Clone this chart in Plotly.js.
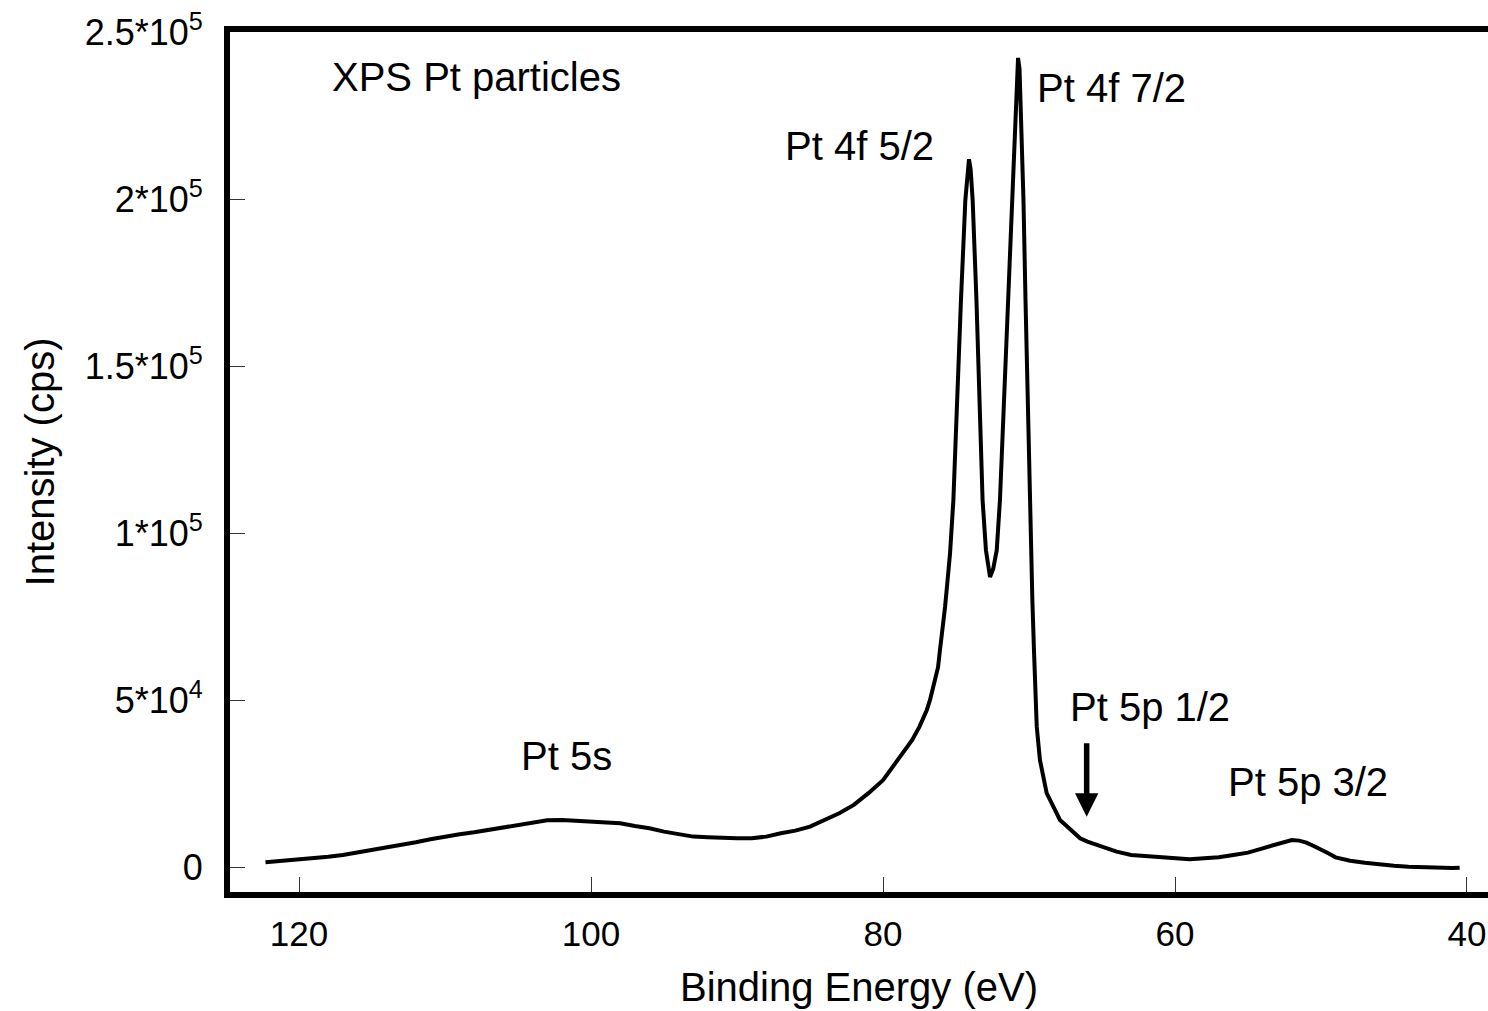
<!DOCTYPE html>
<html>
<head>
<meta charset="utf-8">
<script src="https://cdn.plot.ly/plotly-3.0.1.min.js"></script>
<style>html,body{margin:0;padding:0;background:#fff;}#chart{width:1488px;height:1011px;}</style>
</head>
<body>
<div id="chart"></div>
<script>
// Binding energy (eV)
const bindingEnergy = [
  122.3, 121, 120, 119, 118, 117, 116, 115, 114, 113, 112, 111, 110, 109, 108, 107, 106, 105, 104, 103,
  102, 101, 100, 99, 98, 97, 96, 95, 94, 93, 92, 91, 90, 89, 88, 87, 86, 85, 84, 83,
  82, 81, 80, 79, 78, 77.5, 77, 76.78, 76.5, 76.23, 76.1, 75.89, 75.75, 75.6, 75.41, 75.18, 74.93, 74.66, 74.36, 74.2,
  74.11, 74.0, 73.86, 73.6, 73.4, 73.18, 72.95, 72.8, 72.67, 72.45, 72.21, 71.99, 71.71, 71.44, 71.2, 70.93,
  70.82, 70.75, 70.65, 70.58, 70.38, 70.24, 70.1, 69.96, 69.86, 69.77, 69.66, 69.47, 69.25, 68.79, 68.22, 67.88,
  67.5, 67, 66.5, 66, 65.5, 65, 64.5, 64, 63, 62, 61, 60, 59, 58, 57, 56, 55, 54, 53, 52.5,
  52, 51.5, 51, 50.5, 50, 49.5, 49, 48, 47, 46, 45, 44, 43, 42, 41, 40.5
];
// Intensity (cps)
const intensity = [
  1600, 2100, 2300, 2800, 3300, 3800, 4500, 5300, 6100, 6800, 7600, 8500, 9400, 10000, 10600, 11300, 12000, 12800, 13500, 14200,
  14300, 14000, 13700, 13500, 13300, 12500, 11800, 10800, 10100, 9300, 9100, 8800, 8800, 8800, 9300, 10300, 11100, 12300, 14300, 16300,
  18800, 22300, 26200, 32200, 38200, 42200, 47200, 50200, 55000, 60000, 65100, 72100, 78000, 85000, 94000, 110000, 139900, 169900, 199800, 208000,
  212000, 209000, 199800, 169900, 139900, 110000, 95000, 89500, 87000, 89500, 95000, 110000, 139900, 169900, 199800, 229700,
  238000, 242300, 239000, 229700, 199800, 169900, 139900, 110000, 95000, 80100, 65100, 42200, 32200, 22300, 17300, 14300,
  12800, 10800, 8800, 7800, 7100, 6500, 5800, 4800, 3800, 3500, 3300, 3000, 2500, 2800, 3100, 3800, 4500, 5800, 7100, 7800,
  8300, 8100, 7500, 6500, 5500, 4300, 3100, 2100, 1500, 900, 600, 300, 100, 0, -100, 0
];
const xTickVals = [120, 100, 80, 60, 40];
const yTickVals = [0, 50000, 100000, 150000, 200000, 250000];
const yTickText = ['0', '5*10<sup>4</sup>', '1*10<sup>5</sup>', '1.5*10<sup>5</sup>', '2*10<sup>5</sup>', '2.5*10<sup>5</sup>'];
const labelText = ['XPS Pt particles', 'Pt 4f 5/2', 'Pt 4f 7/2', 'Pt 5p 1/2', 'Pt 5s', 'Pt 5p 3/2'];
const labelX = [117.88, 81.58, 64.32, 61.71, 101.68, 50.87];
const labelY = [236600, 215950, 233450, 47940, 33420, 25730];
const arrowTip = [66.05, 15260];
const arrowTail = [66.05, 37700];

const FONT = 'Liberation Sans, Arial, Helvetica, sans-serif';

const trace = {
  x: bindingEnergy, y: intensity, type: 'scatter', mode: 'lines',
  line: {color: '#000', width: 4}, hoverinfo: 'skip', showlegend: false
};

const annotations = labelText.map((t, i) => ({
  text: t, x: labelX[i], y: labelY[i], xref: 'x', yref: 'y',
  xanchor: i === 0 ? 'left' : 'center', yanchor: 'middle', showarrow: false,
  font: {family: FONT, size: 40, color: '#000'}
}));
annotations.push({
  x: arrowTip[0], y: arrowTip[1], ax: arrowTail[0], ay: arrowTail[1],
  xref: 'x', yref: 'y', axref: 'x', ayref: 'y', text: '', showarrow: true,
  arrowhead: 2, arrowsize: 0.85, arrowwidth: 5.5, arrowcolor: '#000'
});

const layout = {
  width: 1488, height: 1011,
  margin: {l: 230, r: 0, t: 32, b: 119, pad: 0},
  paper_bgcolor: '#fff', plot_bgcolor: '#fff',
  font: {family: FONT, color: '#000'},
  showlegend: false,
  xaxis: {
    range: [124.73, 38.56], autorange: false,
    showgrid: false, zeroline: false,
    showline: true, linewidth: 6, linecolor: '#000', mirror: true,
    ticks: 'inside', ticklen: 15, tickwidth: 1.2, tickcolor: '#333',
    tickvals: xTickVals, ticktext: xTickVals.map(String),
    tickfont: {family: FONT, size: 35, color: '#000'},
    ticklabelstandoff: 6,
    title: {text: 'Binding Energy (eV)', font: {family: FONT, size: 40, color: '#000'}, standoff: 23}
  },
  yaxis: {
    range: [-7271, 250060], autorange: false,
    showgrid: false, zeroline: false,
    showline: true, linewidth: 6, linecolor: '#000', mirror: false,
    ticks: 'inside', ticklen: 15, tickwidth: 1.2, tickcolor: '#333',
    tickvals: yTickVals, ticktext: yTickText,
    tickfont: {family: FONT, size: 36, color: '#000'},
    ticklabelstandoff: 14,
    title: {text: 'Intensity (cps)', font: {family: FONT, size: 40, color: '#000'}, standoff: 20}
  },
  annotations: annotations
};

Plotly.newPlot('chart', [trace], layout, {displayModeBar: false, responsive: false});
</script>
</body>
</html>
